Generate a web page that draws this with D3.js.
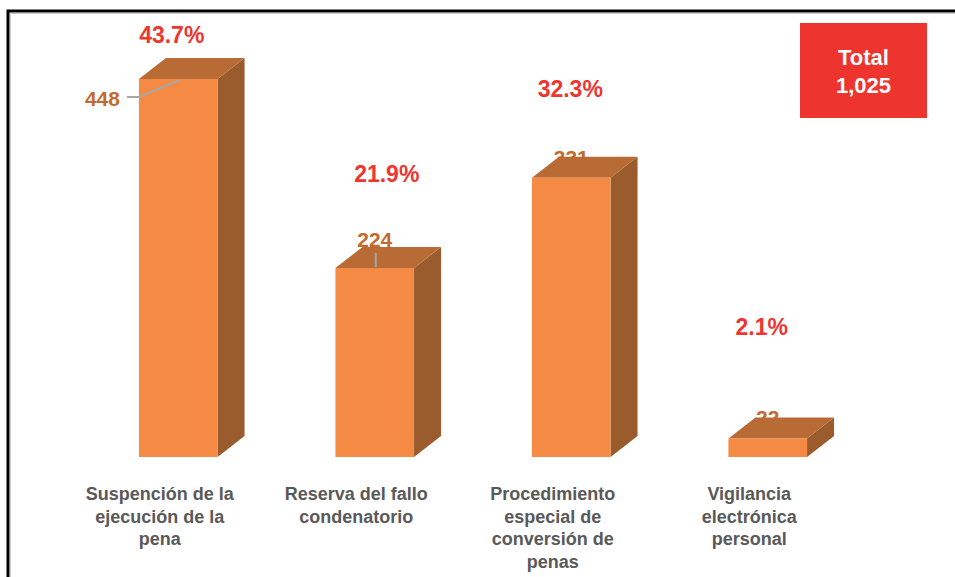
<!DOCTYPE html>
<html>
<head>
<meta charset="utf-8">
<script src="https://cdn.jsdelivr.net/npm/d3@7"></script>
<style>
  html, body { margin: 0; padding: 0; background: #fff; }
  svg { display: block; font-family: "Liberation Sans", Arial, sans-serif; }
</style>
</head>
<body>
<svg id="chart" width="955" height="577"></svg>
<script>
// ---- data ----
const categories = [
  ["Suspención de la", "ejecución de la", "pena"],
  ["Reserva del fallo", "condenatorio"],
  ["Procedimiento", "especial de", "conversión de", "penas"],
  ["Vigilancia", "electrónica", "personal"]
];
const values = [448, 224, 331, 22];
const percents = [43.7, 21.9, 32.3, 2.1];
const totalLabel = "Total";

// ---- layout (positions/styles only) ----
const pctOffsets = [[-6.5, -36], [12, -86], [-1, -81], [-6, -103]];
const valOffsets = [[-58, 27, "end"], [0, -21, "middle"], [0, -13, "middle"], [0, -13, "middle"]];
const depth = { dx: 27, dy: -21 };
const colors = { front: "#F58A44", top: "#B96B36", side: "#9A5C2D", value: "#C4692F", pct: "#EE3530", total: "#EE342E", cat: "#595959" };

const svg = d3.select("#chart");
const ids = d3.range(categories.length);

const x = d3.scaleBand().domain(ids).range([80, 866]).paddingInner(0.6).paddingOuter(0.3);
const y = d3.scaleLinear().domain([0, 448]).range([457, 79]);

// frame
svg.append("path").attr("d", "M8,577 V11 H955").attr("fill", "none").attr("stroke", "#000").attr("stroke-width", 3);
svg.append("path").attr("d", "M10.5,577 V13.5 H955").attr("fill", "none").attr("stroke", "#ccc").attr("stroke-width", 1);

// value labels (behind bars)
svg.selectAll("text.val").data(ids).join("text")
  .attr("class", "val")
  .attr("x", i => (valOffsets[i][2] === "end" ? x(i) : x(i) + x.bandwidth() / 2) + (valOffsets[i][2] === "end" ? -19 : valOffsets[i][0]))
  .attr("y", i => y(values[i]) + valOffsets[i][1])
  .attr("text-anchor", i => valOffsets[i][2])
  .attr("font-size", 21).attr("font-weight", "bold")
  .attr("fill", colors.value)
  .text(i => d3.format(",")(values[i]));

// bars
const g = svg.selectAll("g.bar").data(ids).join("g").attr("class", "bar");
const w = x.bandwidth();
g.append("path").attr("fill", colors.side)
  .attr("d", i => {
    const x1 = x(i) + w, yt = y(values[i]), yb = y(0);
    return `M${x1},${yt} L${x1 + depth.dx},${yt + depth.dy} L${x1 + depth.dx},${yb + depth.dy} L${x1},${yb} Z`;
  });
g.append("path").attr("fill", colors.top)
  .attr("d", i => {
    const x0 = x(i), yt = y(values[i]);
    return `M${x0},${yt} L${x0 + depth.dx},${yt + depth.dy} L${x0 + w + depth.dx},${yt + depth.dy} L${x0 + w},${yt} Z`;
  });
g.append("rect").attr("fill", colors.front)
  .attr("x", i => x(i)).attr("width", w)
  .attr("y", i => y(values[i])).attr("height", i => y(0) - y(values[i]));

// leader lines
const b0 = 0;
svg.append("polyline")
  .attr("points", [[x(b0) - 12, y(values[b0]) + 18], [x(b0), y(values[b0]) + 18], [x(b0) + 41, y(values[b0]) + 1]].join(" "))
  .attr("fill", "none").attr("stroke", "#A6A6A6").attr("stroke-width", 2);
const b1 = 1;
svg.append("line")
  .attr("x1", x(b1) + w / 2 + 1).attr("x2", x(b1) + w / 2 + 1)
  .attr("y1", y(values[b1]) - 15).attr("y2", y(values[b1]) - 1)
  .attr("stroke", "#A6A6A6").attr("stroke-width", 2);

// percentage labels
svg.selectAll("text.pct").data(ids).join("text")
  .attr("class", "pct")
  .attr("x", i => x(i) + w / 2 + pctOffsets[i][0])
  .attr("y", i => y(values[i]) + pctOffsets[i][1])
  .attr("text-anchor", "middle")
  .attr("font-size", 23).attr("font-weight", "bold")
  .attr("fill", colors.pct)
  .text(i => percents[i].toFixed(1) + "%");

// category labels
const cat = svg.selectAll("text.cat").data(ids).join("text")
  .attr("class", "cat")
  .attr("text-anchor", "middle")
  .attr("font-size", 18).attr("font-weight", "bold")
  .attr("fill", colors.cat);
cat.selectAll("tspan").data(i => categories[i].map(t => ({ t, i }))).join("tspan")
  .attr("x", d => x(d.i) + w / 2 - 18.5)
  .attr("y", (d, k) => 500 + k * 22.5)
  .text(d => d.t);

// total box
const total = d3.sum(values);
svg.append("rect").attr("x", 800).attr("y", 23).attr("width", 127).attr("height", 95).attr("fill", colors.total);
svg.append("text").attr("x", 863.5).attr("y", 65).attr("text-anchor", "middle")
  .attr("font-size", 22).attr("font-weight", "bold").attr("fill", "#fff").text(totalLabel);
svg.append("text").attr("x", 863.5).attr("y", 93).attr("text-anchor", "middle")
  .attr("font-size", 22).attr("font-weight", "bold").attr("fill", "#fff").text(d3.format(",")(total));
</script>
</body>
</html>
